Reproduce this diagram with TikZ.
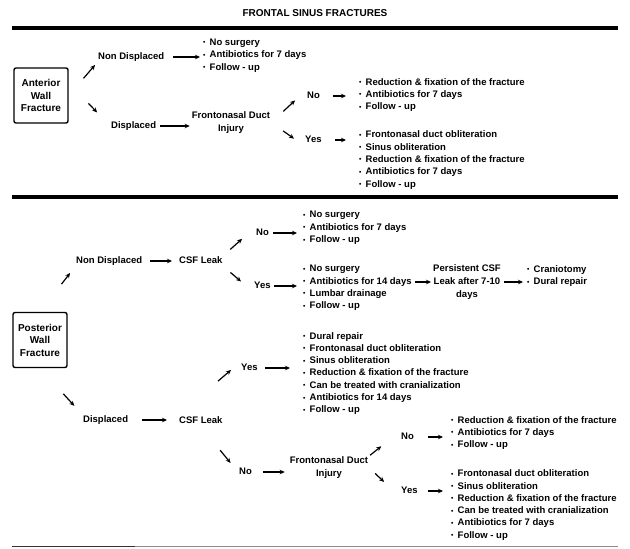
\documentclass[tikz,border=0pt]{standalone}
\usepackage{fontspec}
\setmainfont{Liberation Sans}
\usetikzlibrary{arrows.meta}

\newcommand{\lbfont}{\fontsize{9.5}{12.3}\selectfont\bfseries}
\newcommand{\bul}{\makebox[6.5pt][l]{\raisebox{0.1ex}{\scalebox{0.7}{\textbullet}}}}

\begin{document}
\begin{tikzpicture}[x=1pt,y=-1pt,
  lbl/.style={font=\lbfont,inner sep=1pt,text height=7pt,text depth=2pt,anchor=west},
  lbltwo/.style={font=\fontsize{9.5}{13}\selectfont\bfseries,inner sep=1pt,align=center},
  items/.style={font=\lbfont,inner sep=1pt,align=left,anchor=west},
  wall/.style={draw,line width=1.4pt,rounded corners=2pt,minimum width=54pt,
               minimum height=55pt,inner sep=0pt,align=center,
               font=\fontsize{10}{12.5}\selectfont\bfseries},
  harr/.style={-{Stealth[length=5pt,width=4.5pt]},line width=1.2pt,
               shorten <=4pt,shorten >=2pt},
  darr/.style={-{Stealth[length=5pt,width=4.5pt]},line width=1.2pt},
  rule/.style={line width=4.5pt}
]
  \useasboundingbox (0,0) rectangle (630,549);

  \node[font=\fontsize{10}{12}\selectfont\bfseries] (title) at (315,13) {FRONTAL SINUS FRACTURES};
  \draw[rule] (12,28) -- (618,28);
  \draw[rule] (12,197) -- (618,197);
  \draw[line width=1pt,black!45] (12,546.5) -- (618,546.5);
  \draw[line width=1.5pt,black!80] (12,546.5) -- (135,546.5);

  % anterior wall
  \node[wall] (awf) at (41,95.5) {Anterior\\Wall\\Fracture};
  \node[lbl] (and) at (97,57) {Non Displaced};
  \node[items] (anl) at (202,55.5) {\bul No surgery\\\bul Antibiotics for 7 days\\\bul Follow - up};
  \node[lbl] (ad) at (110,126) {Displaced};
  \node[lbltwo] (afd) at (231,122.5) {Frontonasal Duct\\Injury};
  \node[lbl] (ano) at (306,96) {No};
  \node[items] (anol) at (358,95) {\bul Reduction \& fixation of the fracture\\
    \bul Antibiotics for 7 days\\\bul Follow - up};
  \node[lbl] (ays) at (304,140) {Yes};
  \node[items] (aysl) at (358,160) {\bul Frontonasal duct obliteration\\
    \bul Sinus obliteration\\\bul Reduction \& fixation of the fracture\\
    \bul Antibiotics for 7 days\\\bul Follow - up};

  \draw[darr,shorten <=22.7pt,shorten >=3pt] (awf.east) -- (and.south west);
  \draw[darr,shorten <=28.7pt,shorten >=18.7pt] (awf.25) -- (ad.west);
  \draw[harr,shorten <=8pt] (and) -- (and -| anl.west);
  \draw[harr,shorten <=3pt,shorten >=1pt] (ad) -- (ad -| afd.west);
  \draw[darr,shorten <=16.3pt,shorten >=14.9pt] (afd.east) -- (ano.north west);
  \draw[darr,shorten <=14.6pt,shorten >=12.2pt] (afd.east) -- (ays.south west);
  \draw[harr,shorten <=12pt,shorten >=12pt] (ano) -- (ano -| anol.west);
  \draw[harr,shorten <=12pt,shorten >=12pt] (ays) -- (ays -| aysl.west);

  % posterior wall
  \node[wall] (pwf) at (40,340) {Posterior\\Wall\\Fracture};
  \node[lbl] (pnd) at (75,261) {Non Displaced};
  \node[lbl] (pcsf) at (178,261) {CSF Leak};
  \node[lbl] (pno) at (255,233) {No};
  \node[items] (pnol) at (302,228) {\bul No surgery\\\bul Antibiotics for 7 days\\\bul Follow - up};
  \node[lbl] (pyes) at (253,286) {Yes};
  \node[items] (pyesl) at (302,288) {\bul No surgery\\\bul Antibiotics for 14 days\\
    \bul Lumbar drainage\\\bul Follow - up};
  \node[lbltwo] (ppers) at (467,282) {Persistent CSF\\Leak after 7-10\\days};
  \node[items] (pcl) at (526,276) {\bul Craniotomy\\\bul Dural repair};

  \node[lbl] (pd) at (82,420) {Displaced};
  \node[lbl] (pcsfb) at (178,421) {CSF Leak};
  \node[lbl] (pyesb) at (240,368) {Yes};
  \node[items] (pyesbl) at (302,373.5) {\bul Dural repair\\\bul Frontonasal duct obliteration\\
    \bul Sinus obliteration\\\bul Reduction \& fixation of the fracture\\
    \bul Can be treated with cranialization\\\bul Antibiotics for 14 days\\\bul Follow - up};
  \node[lbl] (pnob) at (238,472) {No};
  \node[lbltwo] (pfd) at (329,468) {Frontonasal Duct\\Injury};
  \node[lbl] (pnoc) at (400,437) {No};
  \node[items] (pnocl) at (450,433) {\bul Reduction \& fixation of the fracture\\
    \bul Antibiotics for 7 days\\\bul Follow - up};
  \node[lbl] (pyesc) at (400,491) {Yes};
  \node[items] (pyescl) at (450,505) {\bul Frontonasal duct obliteration\\
    \bul Sinus obliteration\\\bul Reduction \& fixation of the fracture\\
    \bul Can be treated with cranialization\\\bul Antibiotics for 7 days\\\bul Follow - up};

  \draw[darr,shorten <=35pt,shorten >=8pt] (pwf.north) -- (pnd.south west);
  \draw[darr,shorten <=34.7pt,shorten >=11.4pt] (pwf.south) -- (pd.north west);
  \draw[harr,shorten <=7pt,shorten >=6pt] (pnd) -- (pnd -| pcsf.west);
  \draw[darr,shorten <=8.9pt,shorten >=17.3pt] (pcsf.north east) -- (pno.north west);
  \draw[darr,shorten <=8.8pt,shorten >=15.7pt] (pcsf.south east) -- (pyes.south west);
  \draw[harr,shorten <=3pt,shorten >=5pt] (pno) -- (pno -| pnol.west);
  \draw[harr,shorten <=2pt,shorten >=5pt] (pyes) -- (pyes -| pyesl.west);
  \draw[harr,shorten <=2pt,shorten >=1pt] (pyesl.east |- ppers) -- (ppers);
  \draw[harr,shorten <=2pt,shorten >=3pt] (ppers) -- (ppers -| pcl.west);

  \draw[harr,shorten <=13pt,shorten >=11pt] (pd) -- (pd -| pcsfb.west);
  \draw[darr,shorten <=52.6pt,shorten >=11.8pt] (pcsfb.north west) -- (pyesb.north west);
  \draw[darr,shorten <=30.4pt,shorten >=11.7pt] (pcsfb.south) -- (pnob.west);
  \draw[harr,shorten <=6pt,shorten >=12pt] (pyesb) -- (pyesb -| pyesbl.west);
  \draw[harr,shorten <=10pt,shorten >=4pt] (pnob) -- (pnob -| pfd.west);
  \draw[darr,shorten <=1pt,shorten >=24pt] (pfd.north east) -- (pnoc.north west);
  \draw[darr,shorten <=8pt,shorten >=21.7pt] (pfd.east) -- (pyesc.south west);
  \draw[harr,shorten <=13pt,shorten >=7pt] (pnoc) -- (pnoc -| pnocl.west);
  \draw[harr,shorten <=9pt,shorten >=7pt] (pyesc) -- (pyesc -| pyescl.west);
\end{tikzpicture}
\end{document}
